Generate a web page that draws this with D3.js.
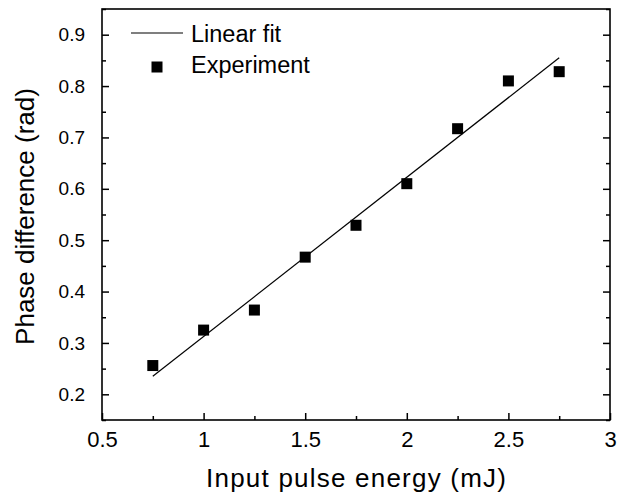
<!DOCTYPE html>
<html>
<head>
<meta charset="utf-8">
<script src="https://cdn.jsdelivr.net/npm/d3@7"></script>
<style>
  body { margin: 0; background: #fff; }
  text { font-family: "Liberation Sans", Arial, sans-serif; fill: #000; }
</style>
</head>
<body>
<div id="chart"></div>
<script>
var energy = [0.75, 1.0, 1.25, 1.5, 1.75, 2.0, 2.25, 2.5, 2.75];
var phase = [0.256, 0.325, 0.364, 0.467, 0.529, 0.610, 0.717, 0.810, 0.828];
var fitX = [0.75, 2.75];
var fitY = [0.235, 0.855];
var xTicks = [0.5, 1, 1.5, 2, 2.5, 3];
var yTicks = [0.2, 0.3, 0.4, 0.5, 0.6, 0.7, 0.8, 0.9];
var legendLabels = ["Linear fit", "Experiment"];

var width = 618, height = 497;
var margin = {left: 102, right: 8, top: 9, bottom: 77};

var svg = d3.select("#chart").append("svg")
    .attr("width", width)
    .attr("height", height);

var x = d3.scaleLinear().domain([0.5, 3]).range([margin.left, width - margin.right]);
var y = d3.scaleLinear().domain([0.15, 0.95]).range([height - margin.bottom, margin.top]);

var xMinor = d3.range(0.75, 3, 0.5);
var yMinor = d3.range(0.15, 0.951, 0.1).map(function (d) { return +d.toFixed(2); });

// bottom axis, ticks pointing in
var gx = svg.append("g").attr("transform", "translate(0," + y.range()[0] + ")");
gx.call(d3.axisBottom(x).tickValues(xTicks).tickSizeInner(-7).tickSizeOuter(0)
    .tickPadding(11).tickFormat(d3.format("")));
gx.append("g").call(d3.axisBottom(x).tickValues(xMinor).tickSize(-4).tickFormat(""));

// left axis
var gy = svg.append("g").attr("transform", "translate(" + x.range()[0] + ",0)");
gy.call(d3.axisLeft(y).tickValues(yTicks).tickSizeInner(-7).tickSizeOuter(0)
    .tickPadding(17).tickFormat(d3.format(".1f")));
gy.append("g").call(d3.axisLeft(y).tickValues(yMinor).tickSize(-4).tickFormat(""));

// right axis, ticks only
var gr = svg.append("g").attr("transform", "translate(" + x.range()[1] + ",0)");
gr.call(d3.axisRight(y).tickValues(yTicks).tickSizeInner(-7).tickSizeOuter(0).tickFormat(""));
gr.append("g").call(d3.axisRight(y).tickValues(yMinor).tickSize(-4).tickFormat(""));

svg.selectAll(".domain").remove();
svg.selectAll(".tick line").attr("stroke", "#000").attr("stroke-width", 1.5);
svg.selectAll(".tick text").style("font-family", "'Liberation Sans', Arial, sans-serif");
gx.selectAll(".tick text").style("font-size", "22px");
gy.selectAll(".tick text").style("font-size", "19px");

// frame
svg.append("rect")
    .attr("x", x.range()[0]).attr("y", y.range()[1])
    .attr("width", x.range()[1] - x.range()[0])
    .attr("height", y.range()[0] - y.range()[1])
    .attr("fill", "none").attr("stroke", "#000").attr("stroke-width", 1.6);

// fit line
var line = d3.line().x(function (d) { return x(d[0]); }).y(function (d) { return y(d[1]); });
svg.append("path")
    .datum(d3.zip(fitX, fitY))
    .attr("d", line)
    .attr("fill", "none").attr("stroke", "#000").attr("stroke-width", 1.2);

// points
var s = 11;
svg.append("g").selectAll("rect")
    .data(d3.zip(energy, phase))
    .join("rect")
    .attr("x", function (d) { return x(d[0]) - s / 2; })
    .attr("y", function (d) { return y(d[1]) - s / 2; })
    .attr("width", s).attr("height", s)
    .attr("fill", "#000");

// legend
var leg = svg.append("g");
leg.append("line").attr("x1", 131).attr("x2", 183).attr("y1", 33).attr("y2", 33)
    .attr("stroke", "#000").attr("stroke-width", 1.2);
leg.append("rect").attr("x", 157 - s / 2).attr("y", 67 - s / 2).attr("width", s).attr("height", s)
    .attr("fill", "#000");
leg.selectAll("text").data(legendLabels).join("text")
    .attr("x", 191)
    .attr("y", function (d, i) { return 41.5 + i * 31; })
    .style("font-size", "23.5px")
    .text(function (d) { return d; });

// axis titles
svg.append("text")
    .attr("x", (x.range()[0] + x.range()[1]) / 2)
    .attr("y", 487)
    .attr("text-anchor", "middle")
    .attr("textLength", 300)
    .attr("lengthAdjust", "spacing")
    .style("font-size", "26px")
    .text("Input pulse energy (mJ)");

svg.append("text")
    .attr("transform", "translate(34," + ((y.range()[0] + y.range()[1]) / 2 + 2) + ") rotate(-90)")
    .attr("text-anchor", "middle")
    .style("font-size", "26px")
    .text("Phase difference (rad)");
</script>
</body>
</html>
